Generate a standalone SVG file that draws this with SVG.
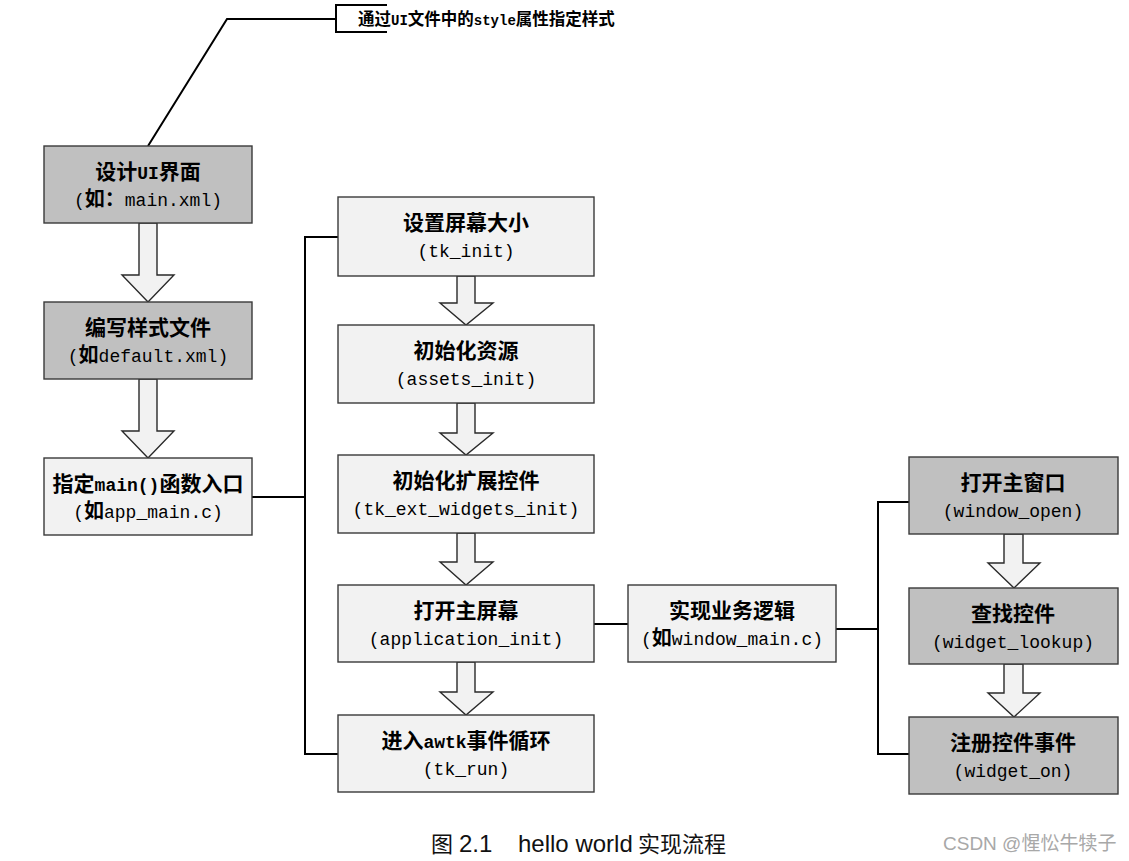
<svg xmlns="http://www.w3.org/2000/svg" width="1129" height="861" viewBox="0 0 1129 861">
<style>
.box{stroke:#3a3a3a;stroke-width:1.4}
.g{fill:#c0c0c0}
.l{fill:#f2f2f2}
.t{font-family:"Liberation Mono","Noto Sans CJK SC",monospace;font-size:18px;fill:#000;text-anchor:middle}
.t1{font-weight:bold}
.c{font-family:"Noto Sans CJK SC",sans-serif;font-size:21px;font-weight:bold}
.c2{font-family:"Noto Sans CJK SC",sans-serif;font-size:20px;font-weight:bold}
.arr{fill:#f2f2f2;stroke:#2a2a2a;stroke-width:1.4;stroke-linejoin:miter}
.ln{fill:none;stroke:#000;stroke-width:2}
.note{font-family:"Liberation Mono","Noto Sans CJK SC",monospace;font-size:14px;font-weight:bold;fill:#000}
.nc{font-family:"Noto Sans CJK SC",sans-serif;font-size:16.5px;font-weight:bold}
.cap{font-family:"Liberation Sans","Noto Sans CJK SC",sans-serif;font-size:24px;fill:#111}
.capc{font-family:"Noto Sans CJK SC",sans-serif;font-size:22px}
.wm{font-family:"Liberation Sans","Noto Sans CJK SC",sans-serif;font-size:19px;fill:#a8a8a8}
</style>

<g id="connectors">
  <polyline class="ln" points="148,146 227,19 336,19"/>
  <polyline class="ln" points="387,5 336,5 336,32 387,32"/>
  <polyline class="ln" points="252,497 305,497"/>
  <polyline class="ln" points="338,237 305,237 305,754 338,754"/>
  <polyline class="ln" points="594,624 628,624"/>
  <polyline class="ln" points="836,629 878,629"/>
  <polyline class="ln" points="909,502 878,502 878,754 909,754"/>
  <path class="arr" d="M139,223 L157,223 L157,275 L174,275 L148,302 L122,275 L139,275 Z"/>
  <path class="arr" d="M139,379 L157,379 L157,431 L174,431 L148,458 L122,431 L139,431 Z"/>
  <path class="arr" d="M457,276 L475,276 L475,303 L493,303 L466,325 L440,303 L457,303 Z"/>
  <path class="arr" d="M457,403 L475,403 L475,433 L493,433 L466,455 L440,433 L457,433 Z"/>
  <path class="arr" d="M457,533 L475,533 L475,562 L493,562 L466,585 L440,562 L457,562 Z"/>
  <path class="arr" d="M457,662 L475,662 L475,692 L493,692 L466,715 L440,692 L457,692 Z"/>
  <path class="arr" d="M1004,534 L1023,534 L1023,563 L1040,563 L1014,588 L988,563 L1004,563 Z"/>
  <path class="arr" d="M1004,664 L1023,664 L1023,693 L1040,693 L1014,717 L988,693 L1004,693 Z"/>
</g>

<g id="note">
  <text class="note" x="358" y="25"><tspan class="nc">通过</tspan>UI<tspan class="nc">文件中的</tspan>style<tspan class="nc">属性指定样式</tspan></text>
</g>

<g id="n-design-ui">
  <rect class="box g" x="44" y="146" width="208" height="77"/>
  <text class="t t1" x="148" y="179"><tspan class="c">设计</tspan>UI<tspan class="c">界面</tspan></text>
  <text class="t" x="148" y="206">(<tspan class="c2">如：</tspan>main.xml)</text>
</g>

<g id="n-style-file">
  <rect class="box g" x="44" y="302" width="208" height="77"/>
  <text class="t t1" x="148" y="335"><tspan class="c">编写样式文件</tspan></text>
  <text class="t" x="148" y="362">(<tspan class="c2">如</tspan>default.xml)</text>
</g>

<g id="n-main-entry">
  <rect class="box l" x="44" y="458" width="208" height="77"/>
  <text class="t t1" x="148" y="491"><tspan class="c">指定</tspan>main()<tspan class="c">函数入口</tspan></text>
  <text class="t" x="148" y="518">(<tspan class="c2">如</tspan>app_main.c)</text>
</g>

<g id="n-tk-init">
  <rect class="box l" x="338" y="197" width="256" height="79"/>
  <text class="t t1" x="466" y="230"><tspan class="c">设置屏幕大小</tspan></text>
  <text class="t" x="466" y="257">(tk_init)</text>
</g>

<g id="n-assets-init">
  <rect class="box l" x="338" y="325" width="256" height="78"/>
  <text class="t t1" x="466" y="358"><tspan class="c">初始化资源</tspan></text>
  <text class="t" x="466" y="385">(assets_init)</text>
</g>

<g id="n-ext-widgets">
  <rect class="box l" x="338" y="455" width="256" height="78"/>
  <text class="t t1" x="466" y="488"><tspan class="c">初始化扩展控件</tspan></text>
  <text class="t" x="466" y="515">(tk_ext_widgets_init)</text>
</g>

<g id="n-app-init">
  <rect class="box l" x="338" y="585" width="256" height="77"/>
  <text class="t t1" x="466" y="618"><tspan class="c">打开主屏幕</tspan></text>
  <text class="t" x="466" y="645">(application_init)</text>
</g>

<g id="n-tk-run">
  <rect class="box l" x="338" y="715" width="256" height="77"/>
  <text class="t t1" x="466" y="748"><tspan class="c">进入</tspan>awtk<tspan class="c">事件循环</tspan></text>
  <text class="t" x="466" y="775">(tk_run)</text>
</g>

<g id="n-business">
  <rect class="box l" x="628" y="585" width="208" height="77"/>
  <text class="t t1" x="732" y="618"><tspan class="c">实现业务逻辑</tspan></text>
  <text class="t" x="732" y="645">(<tspan class="c2">如</tspan>window_main.c)</text>
</g>

<g id="n-window-open">
  <rect class="box g" x="909" y="457" width="209" height="77"/>
  <text class="t t1" x="1013" y="490"><tspan class="c">打开主窗口</tspan></text>
  <text class="t" x="1013" y="517">(window_open)</text>
</g>

<g id="n-widget-lookup">
  <rect class="box g" x="909" y="588" width="209" height="76"/>
  <text class="t t1" x="1013" y="621"><tspan class="c">查找控件</tspan></text>
  <text class="t" x="1013" y="648">(widget_lookup)</text>
</g>

<g id="n-widget-on">
  <rect class="box g" x="909" y="717" width="209" height="77"/>
  <text class="t t1" x="1013" y="750"><tspan class="c">注册控件事件</tspan></text>
  <text class="t" x="1013" y="777">(widget_on)</text>
</g>

<g id="caption">
  <text class="cap" y="852"><tspan class="capc" x="431">图</tspan><tspan x="459">2.1</tspan><tspan x="518">hello world</tspan><tspan class="capc" x="638">实现流程</tspan></text>
  <text class="wm" x="943" y="850">CSDN @惺忪牛犊子</text>
</g>
</svg>
